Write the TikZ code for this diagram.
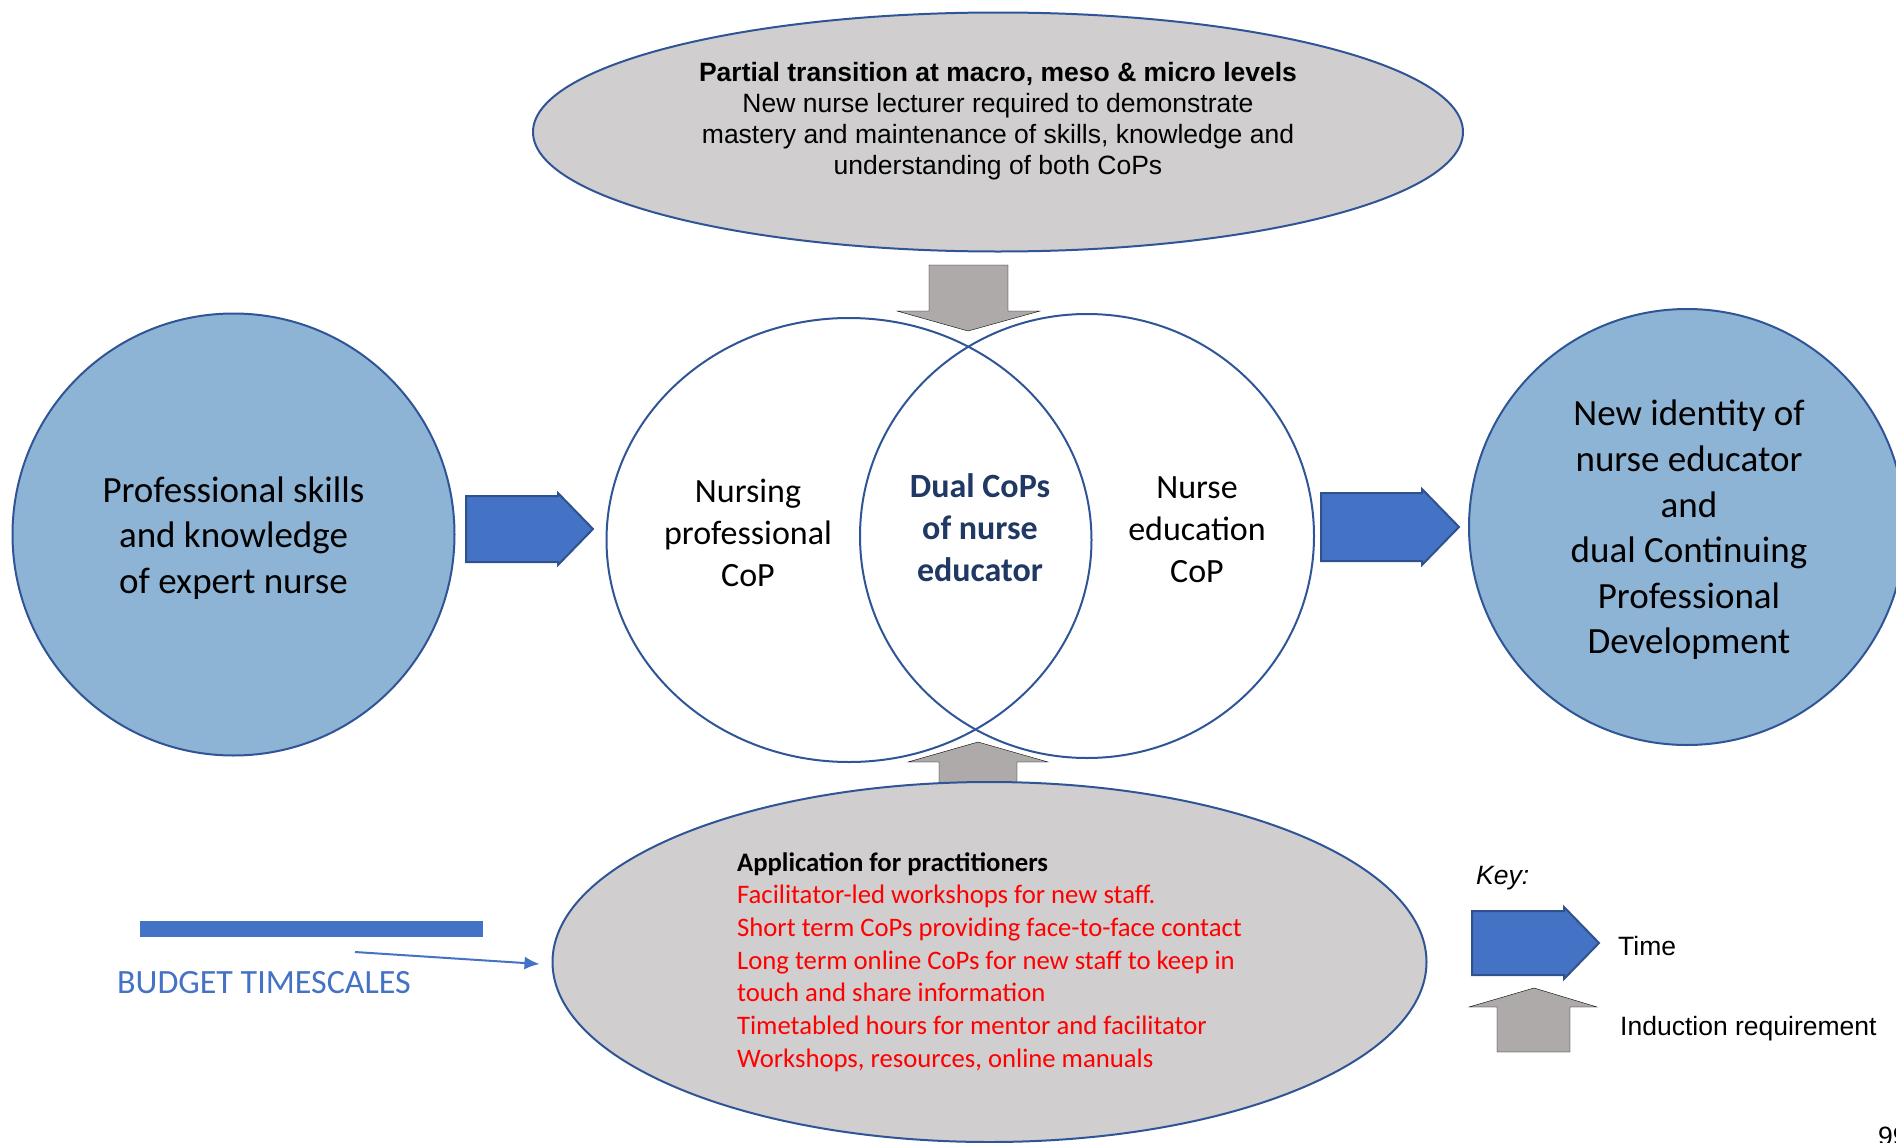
\documentclass[tikz,border=0pt]{standalone}
\usepackage{fontspec}
\setmainfont{Carlito}
\newfontfamily\arialfont{Liberation Sans}
\usepackage{tikz}
\usetikzlibrary{positioning}
\usetikzlibrary{shapes.geometric,arrows.meta}

\definecolor{cborder}{RGB}{47,85,151}
\definecolor{cfill}{RGB}{141,179,213}
\definecolor{ellgrey}{RGB}{208,206,206}
\definecolor{indgrey}{RGB}{174,170,170}
\definecolor{timeblue}{RGB}{68,114,196}
\definecolor{timeborder}{RGB}{47,82,143}
\definecolor{dualnavy}{RGB}{31,56,100}

\begin{document}
\begin{tikzpicture}[x = 1pt, y = -1pt,
                    bigcirc/.style  = {circle,
                                       draw = cborder,
                                       fill = cfill,
                                       line width = 2pt,
                                       minimum size = 442pt,
                                       inner sep = 0pt,
                                       align = center,
                                       font = \fontsize{37}{45.4}\selectfont},
                    cop/.style      = {ellipse,
                                       draw = cborder,
                                       line width = 2pt,
                                       minimum height = 444pt,
                                       inner sep = 0pt},
                    greyell/.style  = {ellipse,
                                       draw = cborder,
                                       fill = ellgrey,
                                       line width = 2pt,
                                       inner sep = 0pt},
                    coptext/.style  = {align = center,
                                       inner sep = 0pt,
                                       font = \fontsize{34}{42}\selectfont},
                    arialtext/.style = {align = center,
                                       inner sep = 0pt,
                                       font = \arialfont\fontsize{26.5}{31}\selectfont},
                    timearrow/.style = {draw = timeborder,
                                       fill = timeblue,
                                       line width = 2pt},
                    indarrow/.style = {fill = indgrey}]

\path[use as bounding box] (0,0) rectangle (1896,1143);
\clip (0,0) rectangle (1896,1143);

\draw[indarrow] (929,265) -- (1008,265) -- (1008,311) -- (1040,311) -- (968,331)
                -- (897,311) -- (929,311) -- cycle;
\draw[indarrow] (939,800) -- (939,762) -- (908,762) -- (978,742) -- (1048,762)
                -- (1017,762) -- (1017,800) -- cycle;

\node[greyell] (top) at (998,132) [minimum width = 930pt, minimum height = 239pt] {};
\node[arialtext] (toptxt) at (998,121.5)
     {\textbf{Partial transition at macro, meso \& micro levels}\\
      New nurse lecturer required to demonstrate\\
      mastery and maintenance of skills, knowledge and\\
      understanding of both CoPs};

\node[greyell] (app) at (989.5,962) [minimum width = 874pt, minimum height = 360pt,
     align = left, text = red, font = \fontsize{26.7}{32.7}\selectfont]
     {\textcolor{black}{\textbf{Application for practitioners}}\\
      Facilitator-led workshops for new staff.\\
      Short term CoPs providing face-to-face contact\\
      Long term online CoPs for new staff to keep in\\
      touch and share information\\
      Timetabled hours for mentor and facilitator\\
      Workshops, resources, online manuals};

\node[bigcirc] (expert) at (233.5,534.5) {};
\node (experttxt) at (233.5,538) [align = center, inner sep = 0pt,
     font = \fontsize{37}{45.4}\selectfont]
     {Professional skills\\and knowledge\\of expert nurse};
\node[bigcirc] (identity) at (1687,527) [minimum size = 436pt] {};
\node (identtxt) at (1689,530) [align = center, inner sep = 0pt,
     font = \fontsize{37}{45.6}\selectfont]
     {New identity of\\nurse educator\\and\\dual Continuing\\Professional\\Development};

\node[cop] (nursing) at (849,540) [minimum width = 485pt] {};
\node[cop] (education) at (1087,536) [minimum width = 454pt] {};

\node[coptext] (nurstxt) at (748,533) {Nursing\\professional\\CoP};
\node[coptext] (dualtxt) at (980,528) [text = dualnavy, font = \bfseries\fontsize{34}{42}\selectfont]
     {Dual CoPs\\of nurse\\educator};
\node[coptext] (edutxt) at (1197,530) {Nurse\\education\\CoP};

\draw[timearrow] (466,496) -- (558,496) -- (558,493) -- (593,529) -- (558,565)
                 -- (558,562) -- (466,562) -- cycle;
\draw[timearrow] (1321,493) -- (1422,493) -- (1422,489) -- (1459,527) -- (1422,565)
                 -- (1422,561) -- (1321,561) -- cycle;

\node (bar) at (311.5,929) [fill = timeblue, minimum width = 343pt, minimum height = 16pt,
     inner sep = 0pt] {};
\node (budget) at (117,982.5) [anchor = west, inner sep = 0pt, text = timeblue,
     font = \fontsize{34}{40}\selectfont] {BUDGET TIMESCALES};
\coordinate (bstart) at (355,952);
\draw[timeblue, line width = 2pt, -{Latex[length = 15pt, width = 13pt]}]
     (bstart) -- ([xshift = -12pt, yshift = -2pt]app.west);

\node[arialtext] (key) at (1476,878.5) [anchor = west] {\itshape Key:};
\draw[timearrow] (1472,911) -- (1564,911) -- (1564,907) -- (1599,943) -- (1564,979)
                 -- (1564,975) -- (1472,975) -- cycle;
\coordinate (timetip) at (1599,943);
\node[arialtext] (timelbl) [right = 19pt of timetip, yshift = -3pt] {Time};
\draw[indarrow] (1497,1052) -- (1497,1007) -- (1469,1007) -- (1534,988) -- (1597,1007)
                -- (1570,1007) -- (1570,1052) -- cycle;
\node[arialtext] (indlbl) at (1620,1029) [anchor = west] {Induction requirement};

\node[arialtext] (page) at (1878,1136.5) [anchor = west] {99};

\end{tikzpicture}
\end{document}
